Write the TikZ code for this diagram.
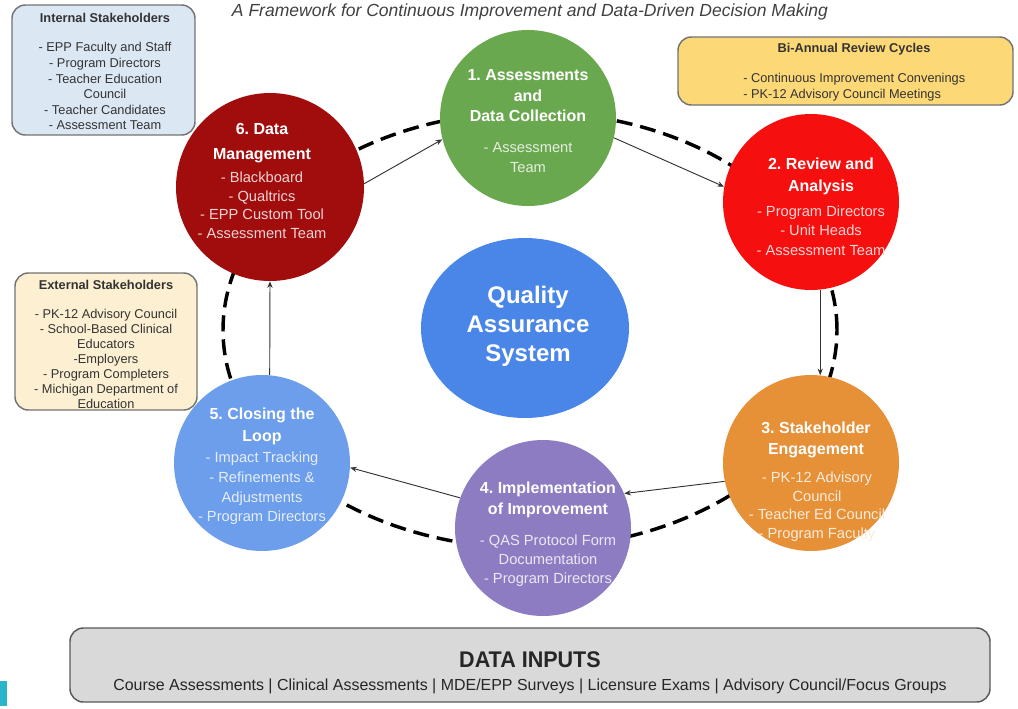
\documentclass[tikz,border=0pt]{standalone}
\usepackage{fontspec}
\setmainfont{Liberation Sans}
\usetikzlibrary{arrows.meta,shapes.geometric}
\definecolor{cgreen}{HTML}{6AA84F}
\definecolor{cred}{HTML}{F50F0F}
\definecolor{corange}{HTML}{E69138}
\definecolor{cpurple}{HTML}{8E7CC3}
\definecolor{cblue}{HTML}{6D9EEB}
\definecolor{cdred}{HTML}{A10D0D}
\definecolor{cqas}{HTML}{4A86E8}
\definecolor{boxblue}{HTML}{DCE7F4}
\definecolor{boxyellow}{HTML}{FDD876}
\definecolor{boxcream}{HTML}{FDF0D2}
\definecolor{boxgray}{HTML}{D9D9D9}
\definecolor{txtdark}{HTML}{333333}
\definecolor{cyanmark}{HTML}{2BB5C9}
\frenchspacing
\begin{document}
\begin{tikzpicture}[x=0.75pt,y=-0.75pt,
  stage/.style={circle, minimum size=132pt, inner sep=0pt, fill=#1},
  ttl/.style={text=white, font=\fontsize{12}{#1}\selectfont\bfseries, align=center, inner sep=0pt, anchor=north},
  ttl/.default=16,
  itm/.style={text=white!82!#1, font=\fontsize{11}{14.5}\selectfont, align=center, inner sep=0pt, anchor=north},
  flow/.style={draw=black!80, line width=0.7pt, -{Stealth[length=5pt,width=4pt]}},
  ring/.style={line width=2.6pt, dash pattern=on 12pt off 6pt},
  infobox/.style={rounded corners=10pt, draw=black!55, line width=1.1pt, inner sep=0pt},
  boxttl/.style={font=\fontsize{9.6}{11.5}\selectfont\bfseries, text=txtdark, inner sep=0pt},
  boxitm/.style={font=\fontsize{9.6}{#1}\selectfont, text=txtdark, align=center, inner sep=0pt, anchor=north},
  boxitm/.default=11.7
]
\useasboundingbox (0,0) rectangle (1018,708);

% title
\node[anchor=base, inner sep=0pt, text=black!75] (title) at (530,16)
  {\resizebox{447pt}{!}{\fontsize{12.6}{14}\selectfont\itshape A Framework for Continuous Improvement and Data-Driven Decision Making}};

% cycle ring
\draw[ring] (530,330) ellipse [x radius=230.25pt, y radius=163.5pt];

% stages
\node[stage=cgreen] (c1) at (528,118) {};
\node[stage=cred] (c2) at (811,202) {};
\node[stage=corange] (c3) at (811,463) {};
\node[stage=cpurple] (c4) at (543,528) {};
\node[stage=cblue] (c5) at (262,463) {};
\node[stage=cdred, minimum size=141pt] (c6) at (270,187) {};

% center
\node[ellipse, fill=cqas, minimum width=156pt, minimum height=135pt, inner sep=0pt] (qas) at (525,328) {};
\node[text=white, font=\fontsize{18}{21.75}\selectfont\bfseries, align=center, inner sep=0pt] (qastxt) at (528,326) {Quality\\Assurance\\System};

% flow arrows
\draw[flow] (c6.2) -- (c1.194);
\draw[flow] (c1.-13) -- (c2.170);
\draw[flow] (c2.-84) -- (c3.84);
\draw[flow] (c3.192) -- (c4.23);
\draw[flow] (c4.160) -- (c5.-3);
\draw[flow] (c5.85) -- (c6.-90);

% stage texts
\node[ttl=15.4] (t1) at (528,69.3) {1. Assessments\\and\\Data Collection};
\node[itm=cgreen, font=\fontsize{11}{15}\selectfont] (i1) at (528,141.7) {- Assessment\\Team};

\node[ttl=16.5] (t2) at (821,157.3) {2. Review and\\Analysis};
\node[itm=cred] (i2) at (821,205.7) {- Program Directors\\- Unit Heads\\- Assessment Team};

\node[ttl=15.75] (t3) at (816,421.3) {3. Stakeholder\\Engagement};
\node[itm=corange, font=\fontsize{11}{14}\selectfont] (i3) at (817,471.7) {- PK-12 Advisory\\Council\\- Teacher Ed Council\\- Program Faculty};

\node[ttl=15.75] (t4) at (548,481.3) {4. Implementation\\of Improvement};
\node[itm=cpurple, font=\fontsize{11}{14.25}\selectfont] (i4) at (548,534.7) {- QAS Protocol Form\\Documentation\\- Program Directors};

\node[ttl=16.5] (t5) at (262,407.3) {5. Closing the\\Loop};
\node[itm=cblue, font=\fontsize{11}{14.8}\selectfont] (i5) at (262,451.7) {- Impact Tracking\\- Refinements \&\\Adjustments\\- Program Directors};

\node[ttl=18.75] (t6) at (262,123.3) {6. Data\\Management};
\node[itm=cdred, font=\fontsize{11}{14}\selectfont] (i6) at (262,171.7) {- Blackboard\\- Qualtrics\\- EPP Custom Tool\\- Assessment Team};

% internal stakeholders
\node[infobox, fill=boxblue, minimum width=137.25pt, minimum height=97.5pt] (internal) at (103.5,70) {};
\node[boxttl] (internalttl) at (105,18) {Internal Stakeholders};
\node[boxitm] (internalitm) at (105,42.4) {- EPP Faculty and Staff\\- Program Directors\\- Teacher Education\\Council\\- Teacher Candidates\\- Assessment Team};

% bi-annual
\node[infobox, fill=boxyellow, minimum width=251.25pt, minimum height=51pt] (biannual) at (845.5,71) {};
\node[boxttl, anchor=base] (biannualttl) at (854,52.6) {Bi-Annual Review Cycles};
\node[boxitm=12, align=left, anchor=north west] (biannualitm) at (743,73.4) {- Continuous Improvement Convenings\\- PK-12 Advisory Council Meetings};

% external stakeholders
\node[infobox, fill=boxcream, minimum width=136.5pt, minimum height=102.75pt] (external) at (106,341.5) {};
\node[boxttl] (externalttl) at (106,285) {External Stakeholders};
\node[boxitm=11.25] (externalitm) at (106,309.4) {- PK-12 Advisory Council\\- School-Based Clinical\\Educators\\-Employers\hspace*{4em}\\- Program Completers\\- Michigan Department of\\Education};

% data inputs
\node[infobox, fill=boxgray, minimum width=690pt, minimum height=55.5pt, draw=black!65] (inputs) at (530,665) {};
\node[inner sep=0pt, text=black!85] (inputsttl) at (530,660)
  {\scalebox{0.95}[1]{\fontsize{17}{19}\selectfont\bfseries DATA INPUTS}};
\node[anchor=base, inner sep=0pt, text=black!85] (inputsitm) at (530,690)
  {\resizebox{625pt}{\height}{\fontsize{12}{14}\selectfont Course Assessments | Clinical Assessments | MDE/EPP Surveys | Licensure Exams | Advisory Council/Focus Groups}};

% corner mark
\fill[cyanmark] (0,681) rectangle (7,706);
\end{tikzpicture}
\end{document}
